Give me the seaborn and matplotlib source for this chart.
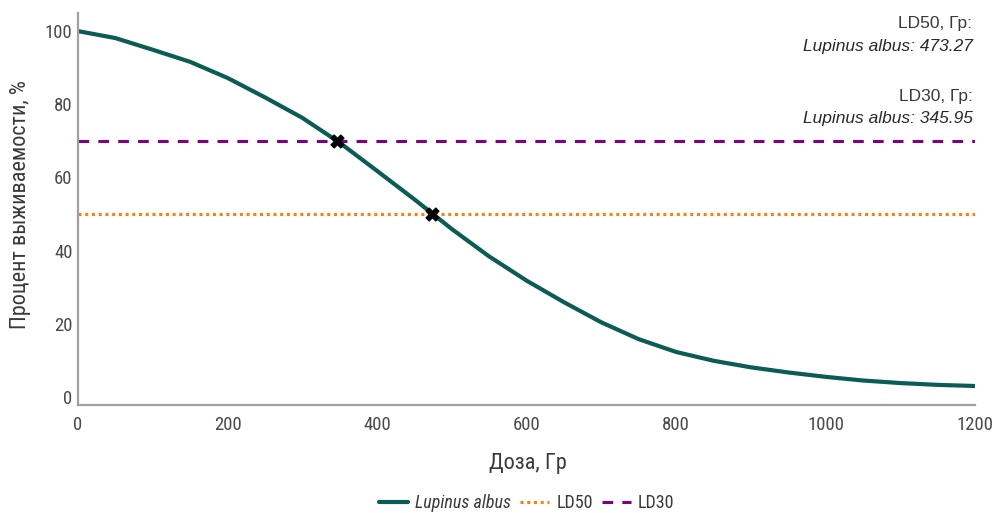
import matplotlib
matplotlib.use("Agg")
import matplotlib.pyplot as plt
import seaborn as sns
import pandas as pd

# Survival curve of Lupinus albus vs. irradiation dose
dose = [0, 50, 100, 150, 200, 250, 300, 350, 400, 450, 500, 550, 600,
        650, 700, 750, 800, 850, 900, 950, 1000, 1050, 1100, 1150, 1200]
survival = [100, 98.1, 94.9, 91.6, 87.2, 81.9, 76.3, 69.5, 61.8, 54.0, 45.9,
            38.4, 31.8, 25.9, 20.4, 15.8, 12.3, 9.9, 8.1, 6.7, 5.5, 4.5,
            3.8, 3.3, 3.0]
species = "Lupinus albus"

ld_levels = [50, 70]          # survival % for LD50 and LD30
ld_doses = [473.27, 345.95]   # estimated doses, Gy
ld_names = ["LD50", "LD30"]

x_ticks = [0, 200, 400, 600, 800, 1000, 1200]
y_ticks = [0, 20, 40, 60, 80, 100]

sns.set_theme(style="white")
plt.rcParams["font.family"] = ["Roboto Condensed", "Liberation Sans Narrow", "DejaVu Sans"]
plt.rcParams["font.stretch"] = "condensed"

fig = plt.figure(figsize=(9.94, 5.13), dpi=100)
ax = fig.add_axes([0.0785, 0.2105, 0.9025, 0.7645])

df = pd.DataFrame({"dose": dose, "survival": survival})
sns.lineplot(data=df, x="dose", y="survival", ax=ax, color="#0b5c55",
             linewidth=3.0, label=species)

ax.axhline(ld_levels[0], color="#ff7f0e", linestyle=(0, (1, 1.2)),
           linewidth=2.2, label=ld_names[0])
ax.axhline(ld_levels[1], color="#800080", linestyle=(0, (3.5, 3)),
           linewidth=2.2, label=ld_names[1])

sns.scatterplot(x=ld_doses, y=ld_levels, ax=ax, marker="X", s=90,
                color="black", edgecolor="black", zorder=5, legend=False)

ax.set_xlim(0, 1200)
ax.set_ylim(-2.2, 105)
ax.set_xticks(x_ticks)
ax.set_yticks(y_ticks)
ax.tick_params(axis="both", labelsize=13.5, labelcolor="#4a4a4a", length=0)
ax.tick_params(axis="x", pad=8)
ax.tick_params(axis="y", pad=4)

for side in ["top", "right"]:
    ax.spines[side].set_visible(False)
for side in ["left", "bottom"]:
    ax.spines[side].set_color("#a0a0a0")
    ax.spines[side].set_linewidth(1.6)

ax.set_xlabel("Доза, Гр", fontsize=16, color="#3a3a3a")
ax.set_ylabel("Процент выживаемости, %", fontsize=16, color="#3a3a3a")
ax.xaxis.set_label_coords(0.502, -0.122)
ax.yaxis.set_label_coords(-0.052, 0.51)

# Dose annotations in the upper right corner
ann_font = ["Liberation Sans", "DejaVu Sans"]
ann_y = [0.972, 0.913, 0.786, 0.730]
ax.text(0.997, ann_y[0], f"{ld_names[0]}, Гр:", transform=ax.transAxes,
        ha="right", va="center", fontsize=12.5, color="#3a3a3a",
        family=ann_font, stretch="normal")
ax.text(0.997, ann_y[1], f"{species}: {ld_doses[0]:.2f}", transform=ax.transAxes,
        ha="right", va="center", fontsize=12.5, color="#2a2a2a",
        style="italic", family=ann_font, stretch="normal")
ax.text(0.997, ann_y[2], f"{ld_names[1]}, Гр:", transform=ax.transAxes,
        ha="right", va="center", fontsize=12.5, color="#3a3a3a",
        family=ann_font, stretch="normal")
ax.text(0.997, ann_y[3], f"{species}: {ld_doses[1]:.2f}", transform=ax.transAxes,
        ha="right", va="center", fontsize=12.5, color="#2a2a2a",
        style="italic", family=ann_font, stretch="normal")

leg = ax.legend(loc="center", bbox_to_anchor=(0.5, -0.25), ncol=3,
                frameon=False, fontsize=13, handlelength=1.6,
                columnspacing=0.5, handletextpad=0.4)
for t in leg.get_texts():
    t.set_color("#3a3a3a")
leg.get_texts()[0].set_style("italic")

fig.savefig("out.png", dpi=100)
